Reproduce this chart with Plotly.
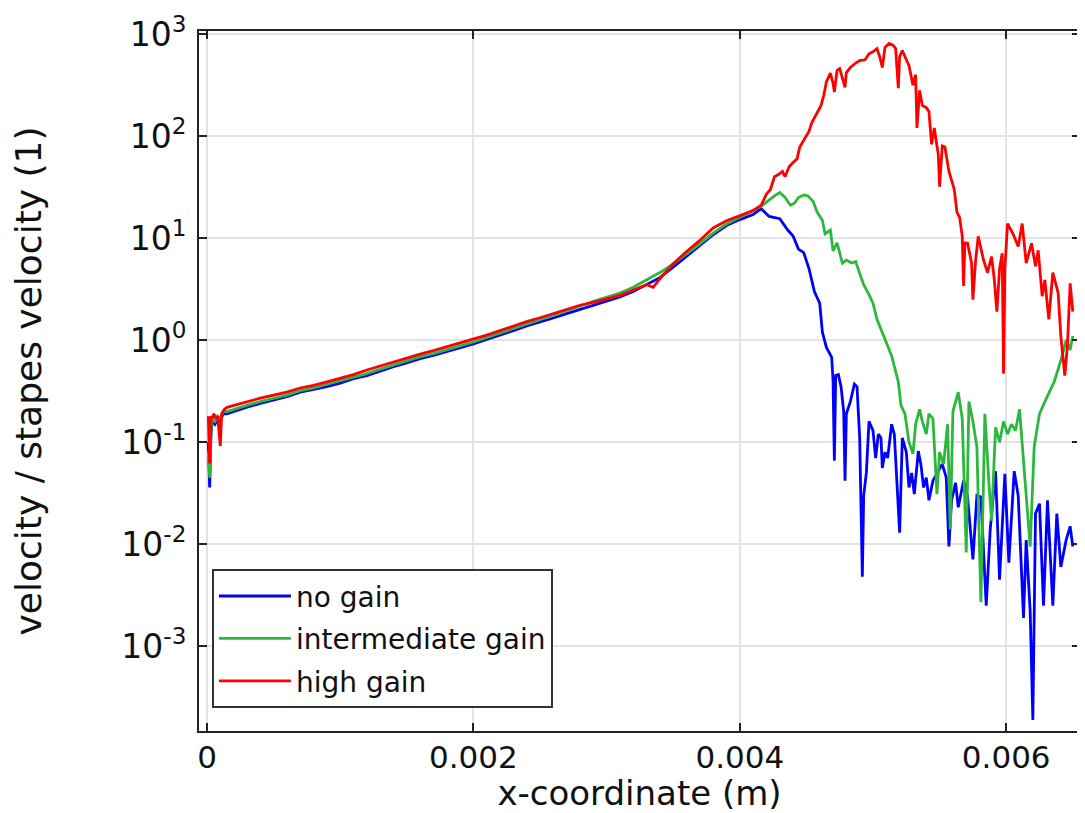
import plotly.graph_objects as go

# ---------------- data ----------------
no_gain_x = [0.00001, 0.00002, 0.00003, 0.00004, 0.00006, 0.00008, 0.0001, 0.00012, 0.00015,
             0.0002, 0.0003, 0.0004, 0.0005, 0.0006, 0.0007, 0.0008, 0.0009, 0.0010, 0.0011,
             0.0012, 0.0013, 0.0014, 0.0015, 0.0016, 0.0017, 0.0018, 0.0019, 0.0020, 0.0021,
             0.0022, 0.0023, 0.0024, 0.0025, 0.0026, 0.0027, 0.0028, 0.0029, 0.0030, 0.0031,
             0.0032, 0.0033, 0.0034, 0.0035, 0.0036, 0.0037, 0.0038, 0.0039, 0.0040, 0.0041,
             0.00416, 0.00422, 0.0043, 0.00436, 0.0044, 0.00444, 0.00448, 0.00452, 0.00456,
             0.0046, 0.00462, 0.00465, 0.00469, 0.00470, 0.00471, 0.00472, 0.00474, 0.00476,
             0.00478, 0.00479, 0.0048, 0.00483, 0.00486, 0.00488, 0.0049, 0.00492, 0.00493,
             0.00495, 0.00497, 0.0050, 0.00502, 0.00504, 0.00506, 0.00507, 0.00509, 0.00511,
             0.00514, 0.00516, 0.00518, 0.0052, 0.00522, 0.00525, 0.00527, 0.00529, 0.00531,
             0.00534, 0.00536, 0.00538, 0.0054, 0.00542, 0.00545, 0.00549, 0.00552, 0.00555,
             0.00557, 0.00559, 0.00562, 0.00564, 0.00568, 0.00571, 0.00575, 0.00578, 0.00581,
             0.00585, 0.00588, 0.00592, 0.00595, 0.00599, 0.00602, 0.00606, 0.00609, 0.00613,
             0.00615, 0.00618, 0.0062, 0.00622, 0.00625, 0.00628, 0.00631, 0.00635, 0.00638,
             0.00641, 0.00645, 0.00648, 0.0065]
no_gain_y = [0.10, 0.036, 0.12, 0.16, 0.15, 0.17, 0.16, 0.19, 0.19,
             0.20, 0.22, 0.24, 0.26, 0.28, 0.31, 0.33, 0.35, 0.38, 0.42,
             0.45, 0.50, 0.55, 0.60, 0.66, 0.71, 0.77, 0.84, 0.92, 1.02,
             1.12, 1.24, 1.38, 1.50, 1.65, 1.82, 2.0, 2.2, 2.4, 2.65,
             3.0, 3.5, 4.1, 5.2, 6.6, 8.4, 10.8, 13.3, 15.2, 17.0,
             19.5, 16.3, 15.5, 12.0, 10.5, 7.8, 7.2, 5.0, 3.0,
             2.3, 1.2, 0.85, 0.68, 0.40, 0.066, 0.45, 0.46, 0.35,
             0.20, 0.042, 0.19, 0.25, 0.37, 0.35, 0.11, 0.0048, 0.030,
             0.050, 0.16, 0.13, 0.07, 0.12, 0.11, 0.056, 0.08, 0.07,
             0.15, 0.12, 0.042, 0.013, 0.11, 0.08, 0.036, 0.05, 0.031,
             0.082, 0.06, 0.036, 0.045, 0.027, 0.042, 0.052, 0.061, 0.045,
             0.0095, 0.027, 0.04, 0.023, 0.042, 0.029, 0.0071, 0.030, 0.029,
             0.0025, 0.014, 0.052, 0.0045, 0.049, 0.0066, 0.052, 0.030, 0.0019,
             0.011, 0.0022, 0.00019, 0.020, 0.025, 0.0025, 0.027, 0.0025, 0.020,
             0.006, 0.011, 0.015, 0.0095]

inter_gain_x = [0.00001, 0.00002, 0.00003, 0.00004, 0.00006, 0.00008, 0.0001, 0.00012, 0.00015,
                0.0002, 0.0003, 0.0004, 0.0005, 0.0006, 0.0007, 0.0008, 0.0009, 0.0010, 0.0011,
                0.0012, 0.0013, 0.0014, 0.0015, 0.0016, 0.0017, 0.0018, 0.0019, 0.0020, 0.0021,
                0.0022, 0.0023, 0.0024, 0.0025, 0.0026, 0.0027, 0.0028, 0.0029, 0.0030, 0.0031,
                0.0032, 0.0033, 0.0034, 0.0035, 0.0036, 0.0037, 0.0038, 0.0039, 0.0040, 0.0041,
                0.00416, 0.0042, 0.00426, 0.0043, 0.00434, 0.00438, 0.00441, 0.00444, 0.00448,
                0.00451, 0.00455, 0.00458, 0.00462, 0.00464, 0.00468, 0.0047, 0.00473, 0.00477,
                0.0048, 0.00484, 0.00487, 0.0049, 0.00493, 0.00497, 0.0050, 0.00503, 0.00506,
                0.0051, 0.00514, 0.00517, 0.00519, 0.00521, 0.00524, 0.00527, 0.0053, 0.00532,
                0.00535, 0.00537, 0.0054, 0.00542, 0.00545, 0.00548, 0.0055, 0.00553, 0.00556,
                0.00558, 0.0056, 0.00564, 0.00567, 0.0057, 0.00572, 0.00575, 0.00578, 0.00581,
                0.00584, 0.00587, 0.00589, 0.00592, 0.00595, 0.00598, 0.00601, 0.00604, 0.00607,
                0.0061, 0.00614, 0.00618, 0.00621, 0.00625, 0.00629, 0.00632, 0.00636, 0.00639,
                0.00642, 0.00645, 0.00648, 0.0065]
inter_gain_y = [0.08, 0.045, 0.13, 0.17, 0.16, 0.18, 0.17, 0.20, 0.20,
                0.21, 0.23, 0.25, 0.27, 0.29, 0.32, 0.34, 0.37, 0.40, 0.44,
                0.47, 0.52, 0.57, 0.63, 0.69, 0.74, 0.80, 0.88, 0.96, 1.06,
                1.17, 1.30, 1.44, 1.58, 1.75, 1.95, 2.15, 2.4, 2.65, 2.9,
                3.3, 3.9, 4.6, 5.6, 7.0, 8.8, 11.2, 13.8, 16.0, 18.5,
                20.5, 22.5, 26.0, 28.0, 25.0, 21.0, 22.0, 25.0, 26.5,
                26.0, 23.0, 18.0, 15.0, 11.0, 12.0, 7.5, 9.0, 5.7,
                6.1, 5.7, 5.9, 4.5, 3.5, 2.8, 2.3, 1.6, 1.3,
                0.95, 0.70, 0.50, 0.39, 0.23, 0.19, 0.10, 0.077, 0.15,
                0.21, 0.16, 0.12, 0.19, 0.17, 0.031, 0.08, 0.061, 0.15,
                0.014, 0.20, 0.31, 0.17, 0.0083, 0.25, 0.16, 0.089, 0.0027,
                0.19, 0.04, 0.017, 0.14, 0.10, 0.16, 0.12, 0.15, 0.13,
                0.21, 0.042, 0.0095, 0.09, 0.19, 0.25, 0.30, 0.39, 0.52,
                0.70, 1.0, 0.8, 1.1]

high_gain_x = [0.00001, 0.00002, 0.00003, 0.00004, 0.00005, 0.00007, 0.00008, 0.0001, 0.00011,
               0.00013, 0.00015, 0.0002, 0.0003, 0.0004, 0.0005, 0.0006, 0.0007, 0.0008, 0.0009,
               0.0010, 0.0011, 0.0012, 0.0013, 0.0014, 0.0015, 0.0016, 0.0017, 0.0018, 0.0019,
               0.0020, 0.0021, 0.0022, 0.0023, 0.0024, 0.0025, 0.0026, 0.0027, 0.0028, 0.0029,
               0.0030, 0.0031, 0.0032, 0.0033, 0.00335, 0.0034, 0.0035, 0.0036, 0.0037, 0.0038,
               0.0039, 0.0040, 0.0041, 0.00416, 0.0042, 0.00423, 0.00426, 0.00429, 0.00432,
               0.00434, 0.00437, 0.0044, 0.00443, 0.00445, 0.00449, 0.00452, 0.00454, 0.00457,
               0.00461, 0.00463, 0.00465, 0.00468, 0.0047, 0.00471, 0.00473, 0.00475, 0.00477,
               0.00479, 0.0048, 0.00483, 0.00487, 0.0049, 0.00494, 0.00497, 0.0050, 0.00503,
               0.00505, 0.00507, 0.00509, 0.00512, 0.00515, 0.00517, 0.00519, 0.0052, 0.00522,
               0.00525, 0.00527, 0.0053, 0.00532, 0.00533, 0.00535, 0.00537, 0.0054, 0.00542,
               0.00544, 0.00546, 0.00549, 0.0055, 0.00552, 0.00554, 0.00557, 0.00561, 0.00563,
               0.00565, 0.00567, 0.00568, 0.00569, 0.00571, 0.00574, 0.00575, 0.00577, 0.00579,
               0.00583, 0.00586, 0.00589, 0.00591, 0.00593, 0.00595, 0.00597, 0.00598, 0.00599,
               0.00601, 0.00605, 0.00609, 0.00612, 0.00615, 0.00619, 0.00622, 0.00624, 0.00627,
               0.00629, 0.00632, 0.00635, 0.00639, 0.00641, 0.00644, 0.00646, 0.00648, 0.0065]
high_gain_y = [0.18, 0.062, 0.18, 0.17, 0.19, 0.17, 0.18, 0.092, 0.19,
               0.21, 0.22, 0.23, 0.25, 0.27, 0.29, 0.31, 0.34, 0.36, 0.39,
               0.42, 0.46, 0.51, 0.56, 0.61, 0.67, 0.73, 0.79, 0.86, 0.93,
               1.02, 1.12, 1.24, 1.38, 1.52, 1.66, 1.82, 2.0, 2.2, 2.35,
               2.55, 2.75, 3.1, 3.5, 3.3, 4.0, 5.6, 7.4, 9.5, 12.6,
               14.8, 16.6, 18.6, 21.0, 27.0, 30.0, 40.0, 42.0, 45.0,
               40.0, 50.0, 55.0, 60.0, 78.0, 95.0, 112.0, 135.0, 162.0,
               200.0, 250.0, 340.0, 415.0, 330.0, 270.0, 440.0, 460.0, 380.0,
               300.0, 420.0, 470.0, 520.0, 550.0, 560.0, 640.0, 670.0, 720.0,
               600.0, 470.0, 740.0, 810.0, 780.0, 720.0, 295.0, 600.0, 690.0,
               560.0, 490.0, 316.0, 400.0, 120.0, 280.0, 200.0, 190.0, 174.0,
               83.0, 120.0, 66.0, 32.0, 80.0, 78.0, 45.0, 30.0, 18.0,
               16.0, 10.4, 3.4, 9.0, 8.9, 5.7, 2.5, 6.0, 10.4,
               6.1, 4.6, 6.6, 4.0, 1.9, 5.0, 7.1, 0.47, 5.0,
               13.9, 11.1, 8.3, 13.9, 5.7, 8.9, 5.3, 7.6, 2.7,
               3.9, 1.6, 4.6, 2.9, 1.1, 0.45, 0.9, 3.6, 1.9]

series_names = ["no gain", "intermediate gain", "high gain"]
series_colors = ["#0000ff", "#2cb83c", "#ff0000"]

x_tick_vals = [0, 0.002, 0.004, 0.006]
x_tick_text = ["0", "0.002", "0.004", "0.006"]
y_tick_vals = [1e-3, 1e-2, 1e-1, 1e0, 1e1, 1e2, 1e3]
y_tick_text = ["10<sup>-3</sup>", "10<sup>-2</sup>", "10<sup>-1</sup>", "10<sup>0</sup>",
               "10<sup>1</sup>", "10<sup>2</sup>", "10<sup>3</sup>"]

# ---------------- figure ----------------
FONT = "DejaVu Sans"
fig = go.Figure()
for xs, ys, name, col in zip([no_gain_x, inter_gain_x, high_gain_x],
                             [no_gain_y, inter_gain_y, high_gain_y],
                             series_names, series_colors):
    fig.add_trace(go.Scatter(x=xs, y=ys, mode="lines", name=name, legendgroup=name,
                             line=dict(color=col, width=2.8)))

axis_common = dict(
    showline=True, linecolor="#222222", linewidth=2, mirror="ticks",
    ticks="inside", ticklen=8, tickwidth=2, tickcolor="#222222",
    showgrid=True, gridcolor="#e3e3e3", gridwidth=1.5,
    zeroline=False,
    ticklabeloverflow="allow",
)

# the page body adds an 8 px offset, so the figure is 8 px smaller than the window
fig.update_layout(
    width=1077, height=805,
    margin=dict(l=191, r=3, t=17, b=82),
    paper_bgcolor="white", plot_bgcolor="white",
    font=dict(family=FONT, color="#111111"),
    showlegend=True,
    legend=dict(
        x=0.0147, y=0.231, xanchor="left", yanchor="top",
        bgcolor="white", bordercolor="#333333", borderwidth=2,
        font=dict(family=FONT, size=28, color="#111111"),
        itemwidth=72, tracegroupgap=3,
    ),
    xaxis=dict(
        range=[-0.00006, 0.006554],
        tickmode="array", tickvals=x_tick_vals, ticktext=x_tick_text,
        tickfont=dict(family=FONT, size=31, color="#111111"),
        ticklabelstandoff=-2,
        title=dict(text="x-coordinate (m)", font=dict(family=FONT, size=34), standoff=8),
        **axis_common,
    ),
    yaxis=dict(
        type="log", range=[-3.83, 3.03],
        tickmode="array", tickvals=y_tick_vals, ticktext=y_tick_text,
        tickfont=dict(family=FONT, size=33, color="#111111"),
        ticklabelstandoff=4,
        title=dict(text="velocity / stapes velocity (1)", font=dict(family=FONT, size=36), standoff=72),
        **axis_common,
    ),
)

fig.write_html("out.html")
